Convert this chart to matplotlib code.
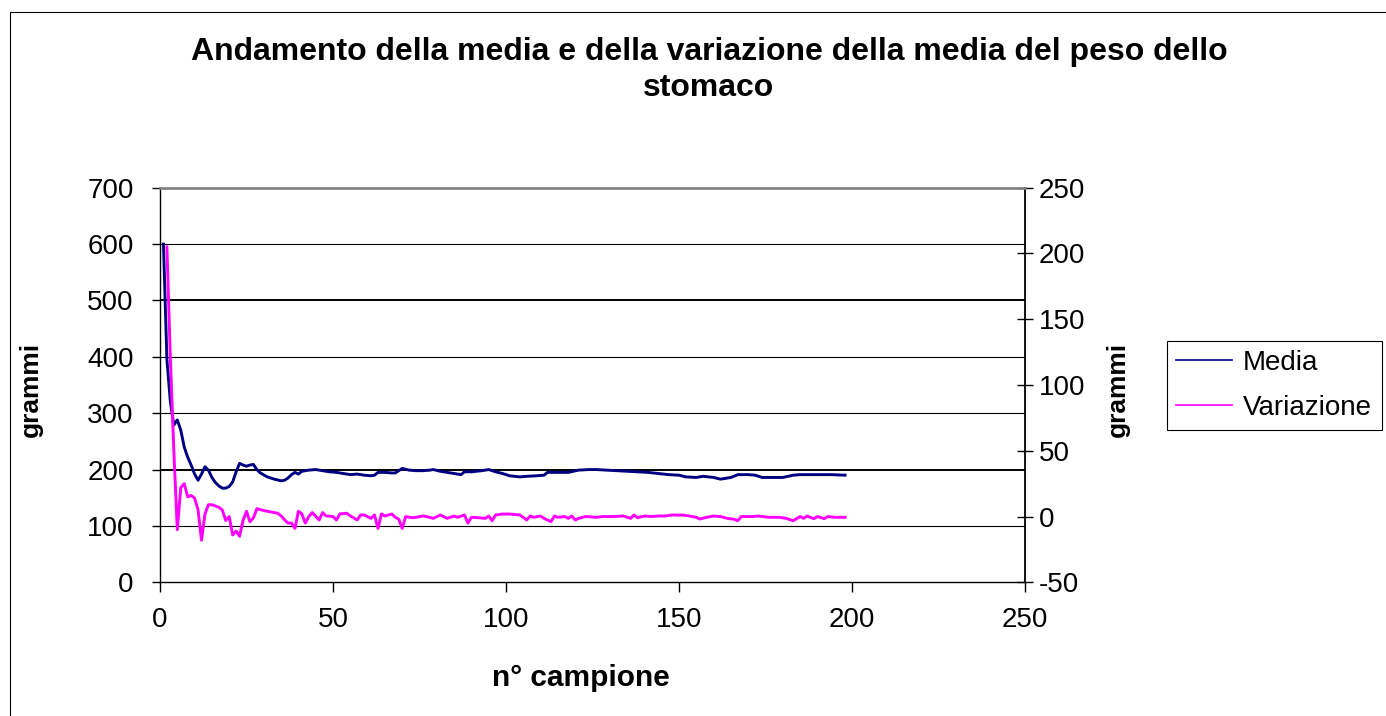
import matplotlib
matplotlib.use("Agg")
import matplotlib.pyplot as plt
from matplotlib import patches

plt.rcParams['font.family'] = ['Liberation Sans', 'DejaVu Sans']
plt.rcParams['axes.unicode_minus'] = False

title = "Andamento della media e della variazione della media del peso dello\nstomaco"

# media (grammi), asse sinistro
media_x = [1, 2, 3, 4, 5, 6, 7, 8, 9, 10, 11, 12, 13, 14, 15, 16, 17, 18, 19, 20,
           21, 22, 23, 24, 25, 26, 27, 28, 29, 31, 33, 35, 36, 37, 38, 39, 40, 41, 43, 45,
           47, 49, 51, 53, 55, 57, 59, 61, 62, 63, 65, 67, 68, 69, 70, 72, 74, 76, 78, 79,
           81, 83, 85, 87, 88, 90, 93, 95, 97, 99, 101, 104, 106, 109, 111, 112, 115, 118, 121, 124,
           126, 129, 132, 135, 138, 141, 144, 147, 150, 152, 155, 157, 160, 162, 165, 167, 170, 172, 174, 177,
           180, 183, 185, 188, 191, 194, 198]
media_y = [600, 395, 320, 279, 288, 270, 240, 222, 208, 192, 181, 192, 205, 199, 186, 177, 171, 167, 167, 170,
           178, 196, 211, 208, 206, 208, 209, 200, 194, 187, 183, 180, 181, 185, 191, 195, 192, 197, 199, 200,
           198, 196, 195, 193, 191, 192, 190, 189, 190, 195, 195, 194, 194, 198, 202, 199, 198, 198, 199, 200,
           197, 195, 193, 191, 196, 196, 198, 200, 196, 193, 189, 187, 188, 189, 190, 195, 195, 195, 199, 200,
           200, 199, 198, 197, 196, 195, 193, 191, 190, 187, 186, 188, 186, 183, 186, 191, 191, 190, 186, 186,
           186, 190, 191, 191, 191, 191, 190]

# variazione della media (grammi), asse destro
var_x = [2, 3, 4, 5, 6, 7, 8, 9, 10, 11, 12, 13, 14, 15, 16, 17, 18, 19, 20, 21,
         22, 23, 24, 25, 26, 27, 28, 30, 32, 34, 35, 36, 37, 38, 39, 40, 41, 42, 43, 44,
         46, 47, 48, 50, 51, 52, 54, 55, 57, 58, 59, 61, 62, 63, 64, 65, 67, 68, 69, 70,
         71, 73, 74, 76, 77, 79, 81, 83, 85, 86, 88, 89, 90, 92, 94, 95, 96, 97, 99, 101,
         104, 106, 107, 108, 110, 111, 113, 114, 115, 117, 118, 119, 120, 121, 123, 126, 128, 131, 134, 136,
         137, 138, 140, 142, 144, 146, 148, 150, 151, 153, 155, 156, 158, 160, 162, 164, 166, 167, 168, 171,
         173, 176, 179, 181, 183, 185, 186, 187, 189, 190, 192, 193, 195, 198]
var_y = [205, 120, 50, -10, 22, 25, 15, 16, 14, 5, -18, 2, 9, 9, 8, 7, 5, -3, 0, -14,
         -11, -15, -3, 4, -4, -1, 6, 4.5, 3.5, 2.5, 0.5, -2.5, -5, -5, -9, 4, 2, -5, 0, 3,
         -2.6, 3, 0.5, 0, -2.6, 2, 2.5, 0.5, -2.6, 1.2, 1.2, -1.4, 1.2, -9, 2, 0.4, 1.9, -0.6, -2, -9,
         0, -0.9, -0.6, 0.4, 0, -1.4, 1.2, -1.4, 0.4, -0.6, 1.2, -5, -0.6, -0.9, -1.4, 0.4, -3.2, 1.2, 1.9, 1.9,
         1.2, -2.6, 0.4, -0.6, 0.4, -1.4, -3.9, 0.4, -0.6, 0, -1.4, 0.4, -2.6, -1.4, 0, -0.6, 0, 0, 0.4, -1.4,
         1.2, -0.9, 0.4, 0, 0.4, 0.4, 1.2, 1, 1.2, 0.4, -0.6, -1.9, -0.6, 0.4, 0, -1.4, -2.1, -3.2, 0, 0,
         0.4, -0.6, -0.6, -1.4, -3.2, 0, -1.4, 0.4, -1.6, 0, -1.6, 0, -0.6, -0.6]

xticks = [0, 50, 100, 150, 200, 250]
yticks_left = [0, 100, 200, 300, 400, 500, 600, 700]
yticks_right = [-50, 0, 50, 100, 150, 200, 250]

W, H = 1386, 716
fig = plt.figure(figsize=(W / 100, H / 100), dpi=100)

# cornice esterna del grafico
fig.add_artist(patches.Rectangle((10 / W, -0.1), 1.2, 1.1 - 12 / H, transform=fig.transFigure,
                                 fill=False, edgecolor='black', linewidth=0.8))

ax = fig.add_axes([160 / W, 1 - 582.3 / H, 865 / W, 394.6 / H])
ax2 = ax.twinx()

l1, = ax.plot(media_x, media_y, color='#000080', linewidth=2.1, label='Media')
l2, = ax2.plot(var_x, var_y, color='#FF00FF', linewidth=2.1, label='Variazione')

ax.set_xlim(0, 250)
ax.set_ylim(0, 700)
ax2.set_ylim(-50, 250)
ax.set_xticks(xticks)
ax.set_yticks(yticks_left)
ax2.set_yticks(yticks_right)

ax.set_axisbelow(True)
ax.yaxis.grid(True, color='black', linewidth=0.8)
for val, gl in zip(yticks_left, ax.get_ygridlines()):
    if val in (200, 500):
        gl.set_linewidth(1.4)
    if val in (0, 700):
        gl.set_visible(False)

for s in ['top', 'right']:
    ax.spines[s].set_visible(False)
for s in ['left', 'bottom']:
    ax.spines[s].set_linewidth(1.0)
for s in ['left', 'bottom']:
    ax2.spines[s].set_visible(False)
ax2.spines['top'].set_color('#808080')
ax2.spines['top'].set_linewidth(1.9)
ax2.spines['right'].set_linewidth(1.3)

ax.tick_params(axis='x', direction='out', length=7, width=1, pad=11, labelsize=20)
ax.tick_params(axis='y', direction='out', length=6, width=1, pad=13, labelsize=20)
ax2.tick_params(axis='y', direction='inout', length=11.5, width=1, pad=4, labelsize=20)

ax.set_xlabel('n° campione', fontsize=21.5, fontweight='bold')
ax.xaxis.set_label_coords(0.487, -0.207)
ax.set_ylabel('grammi', fontsize=19, fontweight='bold')
ax.yaxis.set_label_coords(-0.135, 0.49)
ax2.set_ylabel('grammi', fontsize=19, fontweight='bold')
ax2.yaxis.set_label_coords(1.094, 0.49)

fig.text(709 / W, 1 - 37 / H, title, ha='center', va='top', fontsize=23,
         fontweight='bold', linespacing=1.25)

leg = fig.legend([l1, l2], ['Media', 'Variazione'], loc='upper left',
                 bbox_to_anchor=(1167 / W, 1 - 340.7 / H), borderaxespad=0,
                 fontsize=20, frameon=True, fancybox=False, framealpha=1,
                 handlelength=2.0, handletextpad=0.4, borderpad=0.34, labelspacing=0.68)
leg.get_frame().set_edgecolor('black')
leg.get_frame().set_linewidth(0.8)
for h in leg.get_lines():
    h.set_linewidth(1.2)

fig.savefig('out.png', dpi=100)
